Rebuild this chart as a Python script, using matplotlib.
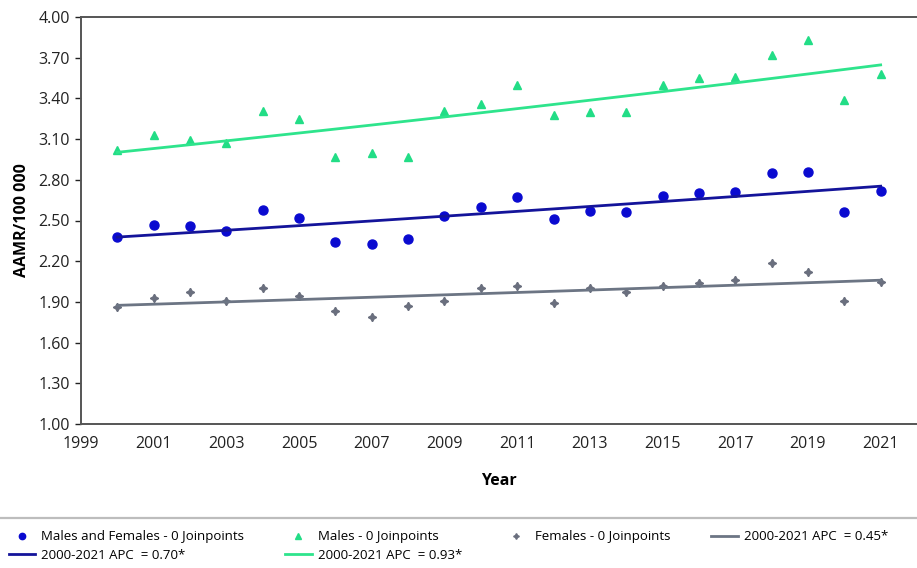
import numpy as np
import matplotlib
matplotlib.use("Agg")
import matplotlib.pyplot as plt
from matplotlib.lines import Line2D

plt.rcParams["font.family"] = ["Open Sans", "DejaVu Sans"]

years = np.arange(2000, 2022)

both = [2.38, 2.47, 2.46, 2.42, 2.58, 2.52, 2.34, 2.33, 2.36, 2.53, 2.60,
        2.67, 2.51, 2.57, 2.56, 2.68, 2.70, 2.71, 2.85, 2.86, 2.56, 2.72]
males = [3.02, 3.13, 3.09, 3.07, 3.31, 3.25, 2.97, 3.00, 2.97, 3.31, 3.36,
         3.50, 3.28, 3.30, 3.30, 3.50, 3.55, 3.56, 3.72, 3.83, 3.39, 3.58]
females = [1.86, 1.93, 1.97, 1.91, 2.00, 1.94, 1.83, 1.79, 1.87, 1.91, 2.00,
           2.02, 1.89, 2.00, 1.97, 2.02, 2.04, 2.06, 2.19, 2.12, 1.91, 2.05]

apc_both = 0.70
apc_males = 0.93
apc_females = 0.45

y_ticks = [1.00, 1.30, 1.60, 1.90, 2.20, 2.50, 2.80, 3.10, 3.40, 3.70, 4.00]
x_ticks = list(range(1999, 2022, 2))


def apc_trend(values, apc):
    """Log-linear trend with fixed annual percent change; intercept fit to data."""
    t = years - years[0]
    growth = np.log1p(apc / 100.0)
    log_a = np.mean(np.log(values) - growth * t)
    return np.exp(log_a + growth * t)


c_both_pt, c_both_ln = "#0a0ad0", "#14149a"
c_m_pt, c_m_ln = "#22dd86", "#2ee48c"
c_f_pt, c_f_ln = "#6a6f7e", "#6c7584"

fig = plt.figure(figsize=(9.17, 5.68), dpi=100)
ax = fig.add_axes([81 / 917, 144 / 568, 836 / 917, 407 / 568])

h_both, = ax.plot(years, both, "o", color=c_both_pt, ms=6.5, ls="none")
h_both_l, = ax.plot(years, apc_trend(both, apc_both), color=c_both_ln, lw=2.0)
h_m, = ax.plot(years, males, "^", color=c_m_pt, ms=6.2, ls="none")
h_m_l, = ax.plot(years, apc_trend(males, apc_males), color=c_m_ln, lw=2.0)
h_f, = ax.plot(years, females, marker=(4, 1, 0), color=c_f_pt, ms=6, ls="none")
h_f_l, = ax.plot(years, apc_trend(females, apc_females), color=c_f_ln, lw=2.0)

ax.set_xlim(1999, 2022)
ax.set_ylim(1.0, 4.0)
ax.set_xticks(x_ticks)
ax.set_yticks(y_ticks)
ax.set_yticklabels([f"{v:.2f}" for v in y_ticks])
ax.tick_params(axis="both", labelsize=11.5, colors="#222222", length=4,
               width=1, direction="out")
ax.tick_params(axis="x", length=0, pad=9)
ax.tick_params(axis="y", pad=4)

for side in ("left", "bottom", "top"):
    ax.spines[side].set_color("#555555")
    ax.spines[side].set_linewidth(1.4)
ax.spines["right"].set_visible(False)

ax.set_xlabel("Year", fontsize=11.5, fontweight="bold", labelpad=15)
ax.set_ylabel("AAMR/100 000", fontsize=11.5, fontweight="bold", labelpad=6)

# separator above the legend
fig.add_artist(Line2D([0, 1], [50 / 568, 50 / 568], color="#bdbdbd", lw=1.6,
                      transform=fig.transFigure))

handles = [h_both, h_both_l, h_m, h_m_l, h_f, h_f_l]
labels = [
    "Males and Females - 0 Joinpoints",
    "2000-2021 APC  = 0.70*",
    "Males - 0 Joinpoints",
    "2000-2021 APC  = 0.93*",
    "Females - 0 Joinpoints",
    "2000-2021 APC  = 0.45*",
]
leg = fig.legend(handles, labels, ncol=4, loc="upper left",
                 bbox_to_anchor=(0.004, 43 / 568), frameon=False,
                 fontsize=9.5, handlelength=2.0, handletextpad=0.45,
                 columnspacing=3.1, labelspacing=0.4, borderaxespad=0.0,
                 markerscale=0.7)

fig.savefig("out.png", dpi=100)
